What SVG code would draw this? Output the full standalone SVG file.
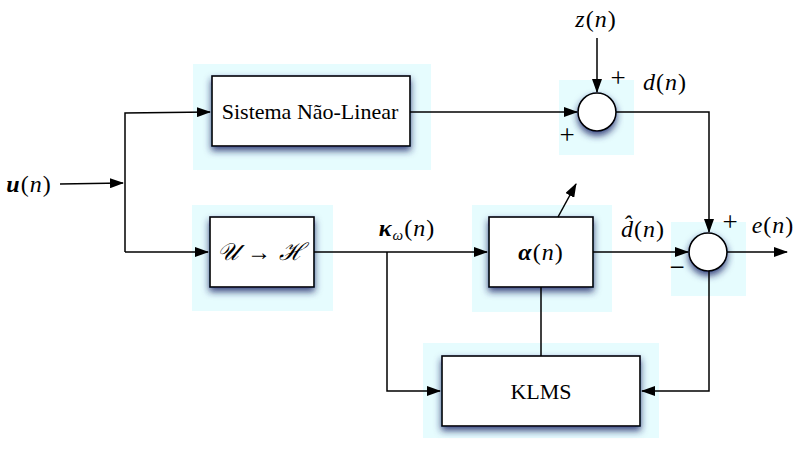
<svg xmlns="http://www.w3.org/2000/svg" width="795" height="449" viewBox="0 0 795 449">
<style>
.bg{fill:#e6fcfe}
.box{fill:#fff;stroke:#000;stroke-width:1.6;filter:url(#sh)}
.ln{fill:none;stroke:#000;stroke-width:1.5}
.t{font-family:"Liberation Serif","Times New Roman",serif;font-size:22px;fill:#000}
.s{font-family:"Liberation Serif","Times New Roman",serif;font-size:27px;fill:#000}
.m{font-family:"Liberation Serif","Times New Roman",serif;font-size:24px;font-style:italic;fill:#000;letter-spacing:1px}
.r{font-style:normal}
.b{font-weight:bold}
</style>
<defs>
<filter id="sh" x="-20%" y="-20%" width="140%" height="160%">
<feDropShadow dx="0" dy="4" stdDeviation="3.5" flood-color="#1c2c6c" flood-opacity="0.85"/>
</filter>
<marker id="ah" markerWidth="14" markerHeight="10" refX="13" refY="5" orient="auto" markerUnits="userSpaceOnUse">
<path d="M0,0 L14,5 L0,10 Z" fill="#000"/>
</marker>
</defs>
<rect width="795" height="449" fill="#fff"/>

<g id="sistema">
<rect class="bg" x="193" y="64" width="238" height="106"/>
<rect class="box" x="212" y="76" width="198" height="70"/>
<text class="t" x="310" y="119" text-anchor="middle">Sistema Não-Linear</text>
</g>

<g id="sum1">
<rect class="bg" x="559" y="80" width="75" height="75"/>
<circle class="box" cx="597" cy="112" r="19"/>
<text class="s" x="618" y="87" text-anchor="middle">+</text>
<text class="s" x="567" y="144" text-anchor="middle">+</text>
</g>

<g id="transform">
<rect class="bg" x="192" y="205" width="141" height="106"/>
<rect class="box" x="210" y="217" width="104" height="70"/>
<text class="m" x="261" y="260" text-anchor="middle">𝒰 <tspan class="r">→</tspan> ℋ</text>
</g>

<g id="alpha">
<rect class="bg" x="472" y="205" width="140" height="107"/>
<rect class="box" x="489" y="217" width="104" height="70"/>
<text class="m" x="541" y="260" text-anchor="middle"><tspan class="b">α</tspan><tspan class="r">(</tspan>n<tspan class="r">)</tspan></text>
</g>

<g id="sum2">
<rect class="bg" x="671" y="222" width="75" height="74"/>
<circle class="box" cx="708" cy="252" r="19"/>
<text class="s" x="730" y="231" text-anchor="middle">+</text>
<text class="s" x="677" y="276" text-anchor="middle">−</text>
</g>

<g id="klms">
<rect class="bg" x="423" y="343" width="236" height="95"/>
<rect class="box" x="442" y="356" width="198" height="70"/>
<text class="t" x="541" y="399" text-anchor="middle">KLMS</text>
</g>

<g id="connectors">
<path class="ln" d="M60,184 L123,183" marker-end="url(#ah)"/>
<path class="ln" d="M125,252 L125,113 L210,112" marker-end="url(#ah)"/>
<path class="ln" d="M125,252 L208,252" marker-end="url(#ah)"/>
<path class="ln" d="M410,112 L577,112" marker-end="url(#ah)"/>
<path class="ln" d="M597,38 L597,92" marker-end="url(#ah)"/>
<path class="ln" d="M616,112 L709,112 L709,232" marker-end="url(#ah)"/>
<path class="ln" d="M314,252 L487,252" marker-end="url(#ah)"/>
<path class="ln" d="M593,252 L688,252" marker-end="url(#ah)"/>
<path class="ln" d="M727,252 L787,252" marker-end="url(#ah)"/>
<path class="ln" d="M387,252 L387,391 L440,391" marker-end="url(#ah)"/>
<path class="ln" d="M709,271 L709,391 L642,391" marker-end="url(#ah)"/>
<path class="ln" d="M541,287 L541,356"/>
<path class="ln" d="M558,217 L576,184" marker-end="url(#ah)"/>
</g>

<g id="labels">
<text class="m" x="29" y="192" text-anchor="middle" letter-spacing="2"><tspan class="b">u</tspan><tspan class="r">(</tspan>n<tspan class="r">)</tspan></text>
<text class="m" x="596" y="27" text-anchor="middle">z<tspan class="r">(</tspan>n<tspan class="r">)</tspan></text>
<text class="m" x="665" y="90" text-anchor="middle">d<tspan class="r">(</tspan>n<tspan class="r">)</tspan></text>
<text class="m" x="407" y="236" text-anchor="middle"><tspan class="b">κ</tspan><tspan font-size="15" dy="4">ω</tspan><tspan class="r" dy="-4">(</tspan>n<tspan class="r">)</tspan></text>
<text class="m" x="643" y="237" text-anchor="middle">d̂<tspan class="r">(</tspan>n<tspan class="r">)</tspan></text>
<text class="m" x="773" y="233" text-anchor="middle">e<tspan class="r">(</tspan>n<tspan class="r">)</tspan></text>
</g>
</svg>
